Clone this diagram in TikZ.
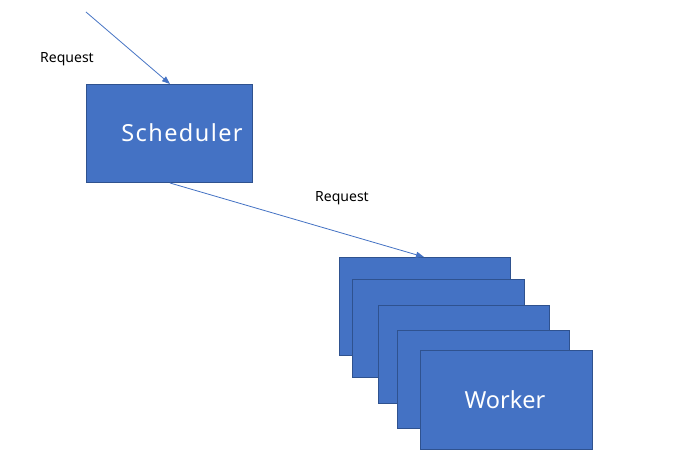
\documentclass[tikz,border=0pt]{standalone}
\usepackage{fontspec}
\setmainfont{Noto Sans}
\usetikzlibrary{arrows.meta}
\definecolor{boxfill}{HTML}{4472C4}
\definecolor{boxline}{HTML}{2F528F}
\begin{document}
\begin{tikzpicture}[x=1pt,y=-1pt,
  box/.style={fill=boxfill,draw=boxline,line width=0.9pt},
  conn/.style={draw=boxfill,line width=0.8pt,-{Triangle[length=8pt,width=6pt]}},
  lbl/.style={font=\fontsize{14}{16}\selectfont,text=black},
  big/.style={text=white,font=\fontsize{23.5}{26}\selectfont}]
\useasboundingbox (0,0) rectangle (685,457);
\fill[white] (0,0) rectangle (685,457);
\draw[box] (86,84) rectangle (252,182);
\node[big,font=\fontsize{23.5}{26}\selectfont\addfontfeatures{LetterSpace=6}] (sched) at (182,133) {Scheduler};
\coordinate (schedtop) at (170,84);
\coordinate (schedbot) at (170,183);
\coordinate (start) at (86,12);
\draw[box] (339,257) rectangle (510,355);
\draw[box] (352,279) rectangle (524,377);
\draw[box] (378,305) rectangle (549,403);
\draw[box] (397,330) rectangle (569,428);
\draw[box] (420,350) rectangle (592,449);
\node[big] (worker) at (505,400) {Worker};
\coordinate (workertop) at (424,257);
\draw[conn] (start) -- (schedtop);
\draw[conn] (schedbot) -- (workertop);
\node[lbl] (req1) at (67,59) {Request};
\node[lbl] (req2) at (342,198) {Request};
\end{tikzpicture}
\end{document}
